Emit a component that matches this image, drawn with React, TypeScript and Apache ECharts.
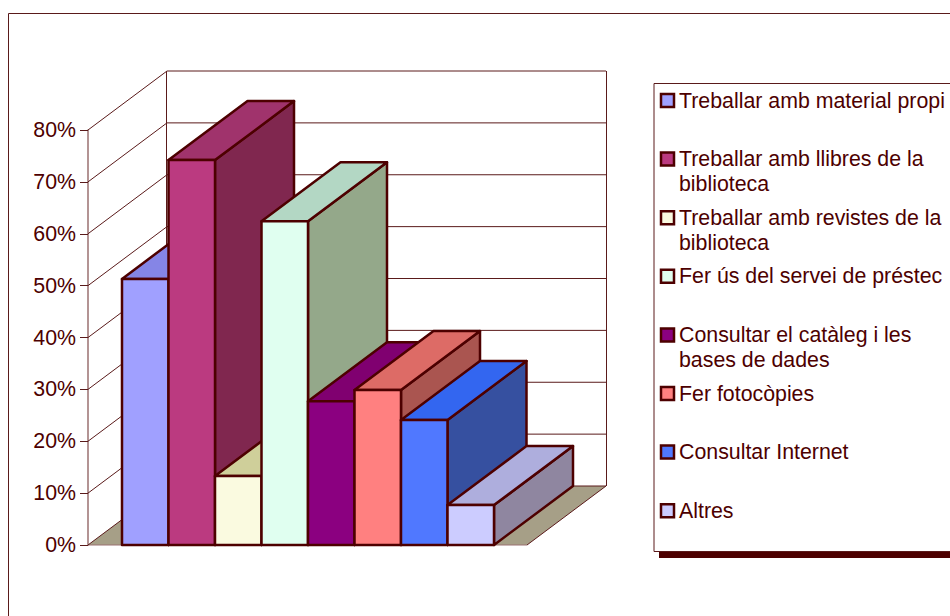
import React, { useEffect, useRef } from "react";
import * as echarts from "echarts";

const legendLabels = [
  "Treballar amb material propi",
  "Treballar amb llibres de la\nbiblioteca",
  "Treballar amb revistes de la\nbiblioteca",
  "Fer ús del servei de préstec",
  "Consultar el catàleg i les\nbases de dades",
  "Fer fotocòpies",
  "Consultar Internet",
  "Altres",
];
const values = [51.3, 74.2, 13.3, 62.4, 27.7, 29.9, 24.1, 7.7];
const yTicks = [0, 10, 20, 30, 40, 50, 60, 70, 80];

const frontColors = ["#a0a0ff", "#bb3a80", "#fafae0", "#e0fff0", "#8b0080", "#ff8080", "#5078ff", "#ccccff"];
const topColors = ["#8585e6", "#a0336c", "#cfcf9a", "#b3d7c4", "#800070", "#dd6b66", "#3366f0", "#aeaedd"];
const sideColors = ["#6a6ab0", "#80274f", "#a8a880", "#94a88a", "#5c0055", "#aa5550", "#3650a0", "#8f86a0"];

const INK = "#4d0000";
const WALL = "#5a1a1a";
const DX = 79;
const DY = -59;
const AXIS_OFFSET = 34;
const PLOT_WIDTH = 439;

function renderWall(params: any, api: any) {
  const [gx, y] = api.coord([api.value(0), api.value(1)]);
  const halfBand = api.size([1, 0])[0] / 2;
  const x0 = gx - halfBand - AXIS_OFFSET;
  const children: any[] = [];
  if (params.dataIndex === 0) {
    children.push({
      type: "polygon",
      shape: { points: [[x0, y], [x0 + DX, y + DY], [x0 + PLOT_WIDTH + DX, y + DY], [x0 + PLOT_WIDTH, y]] },
      style: { fill: "#a69f87", stroke: "none" },
    });
    children.push({
      type: "polyline",
      shape: { points: [[x0 + PLOT_WIDTH, y], [x0 + PLOT_WIDTH + DX, y + DY]] },
      style: { fill: "none", stroke: WALL, lineWidth: 1 },
    });
    children.push({
      type: "line",
      shape: { x1: x0, y1: y, x2: x0 + PLOT_WIDTH, y2: y },
      style: { stroke: "#9a7070", lineWidth: 1 },
    });
    children.push({
      type: "line",
      shape: { x1: x0 + DX - 0.5, y1: y + DY, x2: x0 + DX - 0.5, y2: api.coord([0, 80])[1] + DY },
      style: { stroke: WALL, lineWidth: 1 },
    });
    children.push({
      type: "line",
      shape: { x1: x0 + PLOT_WIDTH + DX + 0.5, y1: y + DY, x2: x0 + PLOT_WIDTH + DX + 0.5, y2: api.coord([0, 80])[1] + DY },
      style: { stroke: WALL, lineWidth: 1 },
    });
  }
  children.push({
    type: "line",
    shape: { x1: x0, y1: y, x2: x0 + DX, y2: y + DY },
    style: { stroke: WALL, lineWidth: 1 },
  });
  children.push({
    type: "line",
    shape: { x1: x0 + DX, y1: y + DY, x2: x0 + DX + PLOT_WIDTH, y2: y + DY },
    style: { stroke: WALL, lineWidth: 1 },
  });
  return { type: "group", children };
}

function renderBar(params: any, api: any) {
  const i = api.value(0);
  const [cx, yTop] = api.coord([i, api.value(1)]);
  const [, yBase] = api.coord([i, 0]);
  const w = api.size([1, 0])[0];
  const l = cx - w / 2;
  const r = cx + w / 2;
  const border = { stroke: INK, lineWidth: 2.5, lineJoin: "round" };
  return {
    type: "group",
    children: [
      {
        type: "polygon",
        shape: { points: [[r, yBase], [r + DX, yBase + DY], [r + DX, yTop + DY], [r, yTop]] },
        style: { fill: sideColors[i], ...border },
      },
      {
        type: "polygon",
        shape: { points: [[l, yTop], [r, yTop], [r + DX, yTop + DY], [l + DX, yTop + DY]] },
        style: { fill: topColors[i], ...border },
      },
      {
        type: "polygon",
        shape: { points: [[l, yTop], [r, yTop], [r, yBase], [l, yBase]] },
        style: { fill: frontColors[i], ...border },
      },
    ],
  };
}

const FONT = "Liberation Sans";
const FONT_SIZE = 21.33;
const LEGEND_ROW_TOP = 92;
const LEGEND_ROW_STEP = 58.6;

export default function App() {
  const ref = useRef<HTMLDivElement>(null);
  useEffect(() => {
    const chart = echarts.init(ref.current!, undefined, { renderer: "svg" });
    const legendGraphics: any[] = [];
    legendLabels.forEach((label, i) => {
      const y = LEGEND_ROW_TOP + i * LEGEND_ROW_STEP;
      legendGraphics.push({
        type: "rect",
        shape: { x: 661, y: y + 2, width: 13, height: 13 },
        style: { fill: frontColors[i], stroke: INK, lineWidth: 2.5 },
      });
      legendGraphics.push({
        type: "text",
        x: 679,
        y: y - 4,
        style: {
          text: label,
          fill: INK,
          font: `${FONT_SIZE}px "${FONT}"`,
          lineHeight: 25,
          textAlign: "left",
          textVerticalAlign: "top",
        },
      });
    });
    chart.setOption({
      animation: false,
      backgroundColor: "#ffffff",
      graphic: [
        { type: "rect", shape: { x: 8.5, y: 13.5, width: 960, height: 640 }, style: { fill: "none", stroke: "#5a1a1a", lineWidth: 1 } },
        { type: "rect", shape: { x: 659, y: 552, width: 300, height: 6 }, style: { fill: "#4d0000" } },
        { type: "rect", shape: { x: 654, y: 83.5, width: 300, height: 468 }, style: { fill: "#ffffff", stroke: "#5a1a1a", lineWidth: 1 } },
        ...legendGraphics,
      ],
      grid: { left: 122, top: 130, width: 372, height: 415 },
      xAxis: { type: "category", data: legendLabels, show: false },
      yAxis: {
        type: "value",
        min: 0,
        max: 80,
        interval: 10,
        offset: AXIS_OFFSET,
        axisLine: { show: true, lineStyle: { color: "#9a7070", width: 1.5 } },
        axisTick: { show: true, length: 8, lineStyle: { color: "#5a1a1a", width: 1 } },
        axisLabel: { formatter: "{value}%", color: INK, fontFamily: FONT, fontSize: FONT_SIZE, margin: 12 },
        splitLine: { show: false },
      },
      series: [
        {
          type: "custom",
          z: 1,
          renderItem: renderWall,
          data: yTicks.map((v) => [0, v]),
          silent: true,
        },
        {
          type: "custom",
          z: 2,
          renderItem: renderBar,
          data: values.map((v, i) => [i, v]),
          silent: true,
        },
      ],
    });
    return () => chart.dispose();
  }, []);
  return <div ref={ref} style={{ position: "absolute", left: 0, top: 0, width: 950, height: 616 }} />;
}
